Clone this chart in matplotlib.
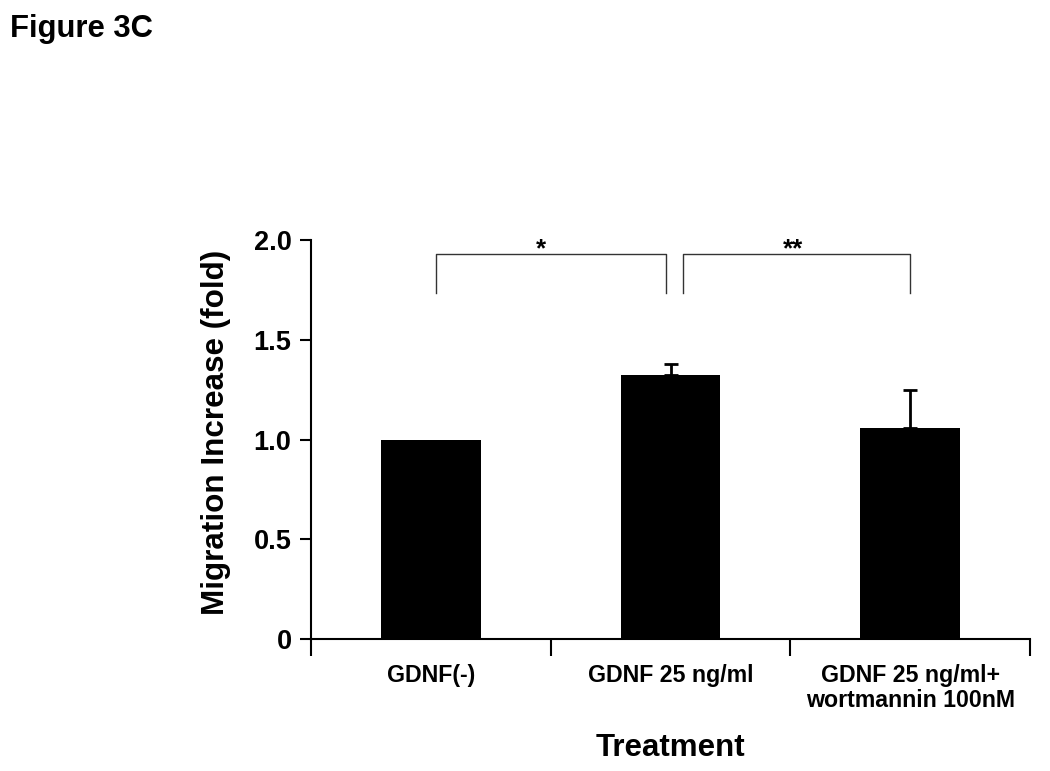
import matplotlib
matplotlib.use("Agg")
import matplotlib.pyplot as plt
import numpy as np

plt.rcParams['font.family'] = ['Liberation Sans', 'DejaVu Sans']

categories = ["GDNF(-)", "GDNF 25 ng/ml", "GDNF 25 ng/ml+\nwortmannin 100nM"]
values = [1.0, 1.325, 1.06]
errors = [0.0, 0.055, 0.19]
yticks = [0, 0.5, 1.0, 1.5, 2.0]
yticklabels = ["0", "0.5", "1.0", "1.5", "2.0"]
# (left x, right x, star x, label)
brackets = [(0.02, 0.98, 0.46, "*"), (1.05, 2.0, 1.51, "**")]
bracket_top = 1.93
bracket_bottom = 1.735

fig = plt.figure(figsize=(10.5, 7.71), dpi=100)
ax = fig.add_axes([0.2962, 0.1712, 0.6848, 0.5175])

x = np.arange(len(categories))
ax.bar(x, values, width=0.415, color="black", zorder=2)
for xi, v, e in zip(x, values, errors):
    if e > 0:
        ax.errorbar([xi], [v], yerr=[[0], [e]], fmt="none", ecolor="black",
                    elinewidth=2, capsize=4.7, capthick=2, zorder=3)

ax.set_xlim(-0.5, 2.5)
ax.set_ylim(0, 2.0)
ax.set_yticks(yticks)
ax.set_yticklabels(yticklabels, fontsize=19.5, fontweight="bold")
ax.set_xticks([-0.5, 0.5, 1.5, 2.5])
ax.set_xticklabels([])
ax.set_xticks(x, minor=True)
ax.set_xticklabels(categories, minor=True, fontsize=16.7, fontweight="bold",
                   linespacing=1.1)
ax.tick_params(axis="x", which="major", length=12, width=1.5, direction="out")
ax.tick_params(axis="x", which="minor", length=0, pad=18)
ax.tick_params(axis="y", length=8, width=1.5, direction="out", pad=6)

for s in ["top", "right"]:
    ax.spines[s].set_visible(False)
for s in ["left", "bottom"]:
    ax.spines[s].set_linewidth(1.5)

for x0, x1, xs, label in brackets:
    ax.plot([x0, x0, x1, x1], [bracket_bottom, bracket_top, bracket_top, bracket_bottom],
            color="#333333", lw=1.0, clip_on=False)
    ax.text(xs, 1.918, label, ha="center", va="baseline",
            fontsize=18.5, fontweight="bold")

ax.set_ylabel("Migration Increase (fold)", fontsize=22.6, fontweight="bold")
ax.yaxis.set_label_coords(-0.111, 0.519)
ax.set_xlabel("Treatment", fontsize=22.5, fontweight="bold")
ax.xaxis.set_label_coords(0.5, -0.2355)

fig.text(0.0095, 0.962, "Figure 3C", fontsize=22.3, fontweight="bold", ha="left", va="center")

fig.savefig("out.png", dpi=100)
